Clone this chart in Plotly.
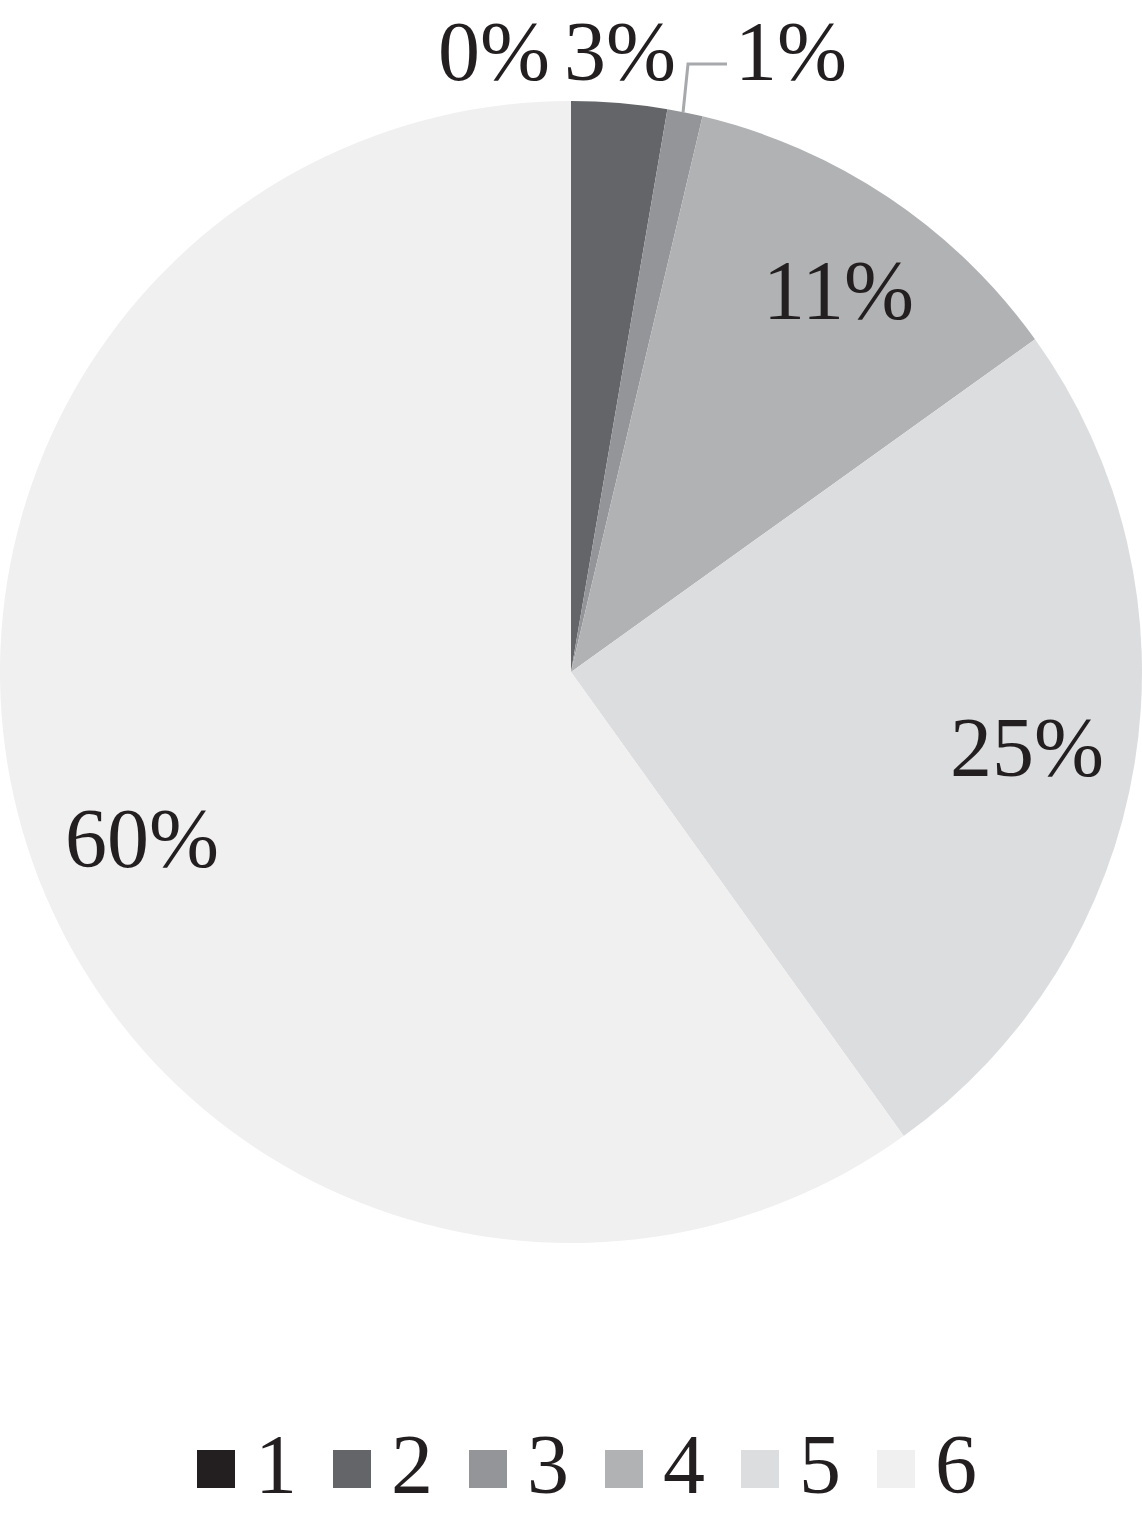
import math
import plotly.graph_objects as go

categories = ["1", "2", "3", "4", "5", "6"]
values = [0.0, 2.7, 1.0, 11.4, 25.0, 59.9]
colors = ["#231f20", "#636569", "#939598", "#b1b2b4", "#dcdddf", "#f0f0f0"]

W, H = 1142, 1519
CX, CY, R = 571, 672, 571  # pixel geometry of the pie
FONT = "Liberation Serif, Times New Roman, serif"
TXT = "#231f20"
FS = 84

fig = go.Figure(go.Pie(
    labels=categories, values=values, sort=False, direction="clockwise", rotation=0,
    marker=dict(colors=colors, line=dict(width=0)),
    textinfo="none", hoverinfo="label+percent", showlegend=False,
    domain=dict(x=[0, 1], y=[(H - (CY + R)) / H, (H - (CY - R)) / H]),
))

def px2paper(x, y):
    return x / W, 1 - y / H

total = sum(values)
cum = 0
annotations = []
shapes = []
# label placements (pixel centers) overridden where the reference moved them
placed = {0: (494, 52), 1: (620, 52), 2: (791, 52), 3: (838, 291), 5: (142, 838)}
for i, v in enumerate(values):
    mid = (cum + v / 2) / total * 2 * math.pi
    cum += v
    txt = f"{round(v / total * 100)}%"
    if i in placed:
        x, y = placed[i]
    else:
        x = CX + 0.81 * R * math.sin(mid)
        y = CY - 0.81 * R * math.cos(mid)
    px, py = px2paper(x, y)
    annotations.append(dict(x=px, y=py, xref="paper", yref="paper", text=txt, showarrow=False,
                            xanchor="center", yanchor="middle",
                            font=dict(family=FONT, size=FS, color=TXT)))
    if i == 2:
        ex = CX + R * math.sin(mid)
        ey = CY - R * math.cos(mid)
        pts = [(ex - 2, ey), (688, 64), (727, 64)]
        path = "M" + " L".join(f"{a / W},{1 - b / H}" for a, b in pts)
        shapes.append(dict(type="path", path=path, xref="paper", yref="paper",
                           line=dict(color="#a7a9ac", width=3)))

# custom legend
for i, (c, col) in enumerate(zip(categories, colors)):
    x0 = 197 + i * 136
    shapes.append(dict(type="rect", xref="paper", yref="paper",
                       x0=x0 / W, x1=(x0 + 38) / W, y0=1 - 1488 / H, y1=1 - 1450 / H,
                       fillcolor=col, line=dict(width=0)))
    annotations.append(dict(x=(x0 + 56) / W, y=1 - 1464 / H, xref="paper", yref="paper",
                            text=c, showarrow=False, xanchor="left", yanchor="middle",
                            font=dict(family=FONT, size=FS, color=TXT)))

fig.update_layout(width=W, height=H, margin=dict(l=0, r=0, t=0, b=0),
                  paper_bgcolor="white", plot_bgcolor="white",
                  annotations=annotations, shapes=shapes)
fig.write_html("out.html", config={"displayModeBar": False},
               post_script="document.body.style.margin='0';")
